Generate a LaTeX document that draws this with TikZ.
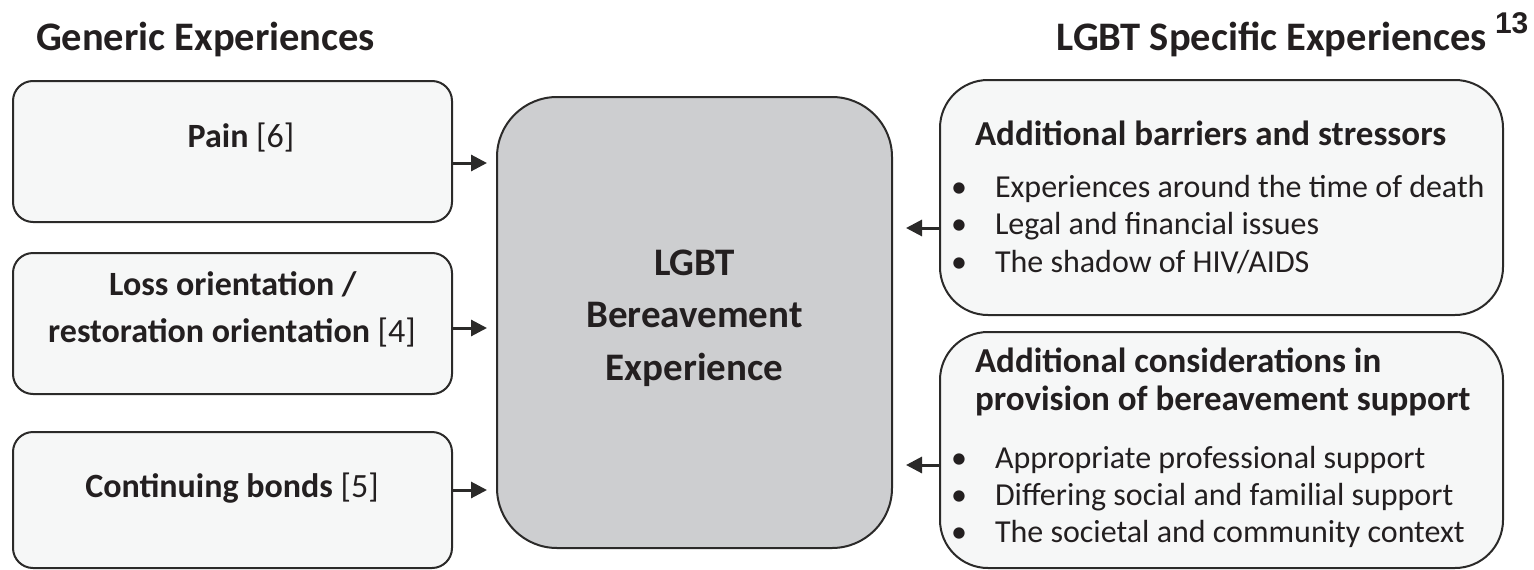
\documentclass[tikz,border=0pt]{standalone}
\usepackage{fontspec}
\setmainfont{Carlito}
\newfontfamily\markfont{Liberation Sans}
\usetikzlibrary{arrows.meta}

\definecolor{inkgray}{HTML}{2B2A29}
\definecolor{sidefill}{HTML}{F6F7F7}
\definecolor{corefill}{HTML}{CDCED0}
\definecolor{textcol}{HTML}{231F20}

\begin{document}
\begin{tikzpicture}[x=1pt,y=-1pt,
  every node/.style={inner sep=0pt, outer sep=0pt, text=textcol},
  panel/.style={draw=inkgray, line width=2pt, anchor=north west},
  sidebox/.style={panel, fill=sidefill, rounded corners=20pt},
  listbox/.style={panel, fill=sidefill, rounded corners=48pt},
  corebox/.style={panel, fill=corefill, rounded corners=60pt},
  heading/.style={font=\fontsize{40.5}{48}\selectfont\bfseries},
  boxlabel/.style={anchor=base, font=\fontsize{34}{40}\selectfont},
  corelabel/.style={anchor=base, font=\fontsize{39}{46}\selectfont\bfseries},
  listhead/.style={anchor=base west, font=\fontsize{35}{40}\selectfont\bfseries},
  listitem/.style={anchor=base west, font=\fontsize{32}{38}\selectfont},
  bullet/.style={anchor=base, font=\fontsize{32}{38}\selectfont},
  flow/.style={draw=inkgray, line width=3pt, -{Triangle[length=16pt,width=16pt]}}
]
\useasboundingbox (0,0) rectangle (1534,570);

% column titles
\node[heading, anchor=base west] (gentitle) at (36,50) {Generic Experiences};
\node[heading, anchor=base east] (spectitle) at (1487,50) {LGBT Specific Experiences};
\node[anchor=base west, font=\markfont\bfseries\fontsize{30}{34}\selectfont] (pagemark) at (1495,33) {13};

% generic experiences
\node[sidebox, minimum width=439pt, minimum height=141pt] (pain) at (13,81) {};
\node[sidebox, minimum width=439pt, minimum height=141pt] (loss) at (13,253) {};
\node[sidebox, minimum width=439pt, minimum height=136pt] (bonds) at (13,432) {};

\node[boxlabel] (painlbl) at (241,147) {\textbf{Pain} [6]};
\node[boxlabel] (losslblA) at (233,295) {\textbf{Loss orientation /}};
\node[boxlabel] (losslblB) at (232,342) {\textbf{restoration orientation} [4]};
\node[boxlabel] (bondslbl) at (232,497) {\textbf{Continuing bonds} [5]};

% central experience
\node[corebox, minimum width=395pt, minimum height=451pt] (core) at (497,97) {};
\node[corelabel] (coreA) at (694.5,275) {LGBT};
\node[corelabel] (coreB) at (694.5,327) {Bereavement};
\node[corelabel] (coreC) at (694.5,380) {Experience};

% LGBT specific experiences
\node[listbox, minimum width=563pt, minimum height=235pt] (barriers) at (940,80) {};
\node[listbox, minimum width=563pt, minimum height=236pt] (support) at (940,332) {};

\node[listhead] (barhead) at (975,145) {Additional barriers and stressors};
\node[bullet] (barb1) at (959,197) {•};
\node[bullet] (barb2) at (959,234.5) {•};
\node[bullet] (barb3) at (959,272) {•};
\node[listitem] (bari1) at (995,197) {Experiences around the time of death};
\node[listitem] (bari2) at (995,234.5) {Legal and financial issues};
\node[listitem] (bari3) at (995,272) {The shadow of HIV/AIDS};

\node[listhead] (suphead1) at (975,372) {Additional considerations in};
\node[listhead] (suphead2) at (975,410) {provision of bereavement support};
\node[bullet] (supb1) at (959,468) {•};
\node[bullet] (supb2) at (959,505) {•};
\node[bullet] (supb3) at (959,542) {•};
\node[listitem] (supi1) at (995,468) {Appropriate professional support};
\node[listitem] (supi2) at (995,505) {Differing social and familial support};
\node[listitem] (supi3) at (995,542) {The societal and community context};

% influences on the central experience
\draw[flow, shorten >=10pt] (pain.east |- 0,163) -- (core.west |- 0,163);
\draw[flow, shorten >=10pt] (loss.east |- 0,328) -- (core.west |- 0,328);
\draw[flow, shorten >=10pt] (bonds.east |- 0,490) -- (core.west |- 0,490);
\draw[flow, shorten >=14pt] (barriers.west |- 0,228) -- (core.east |- 0,228);
\draw[flow, shorten >=14pt] (support.west |- 0,465) -- (core.east |- 0,465);
\end{tikzpicture}
\end{document}
